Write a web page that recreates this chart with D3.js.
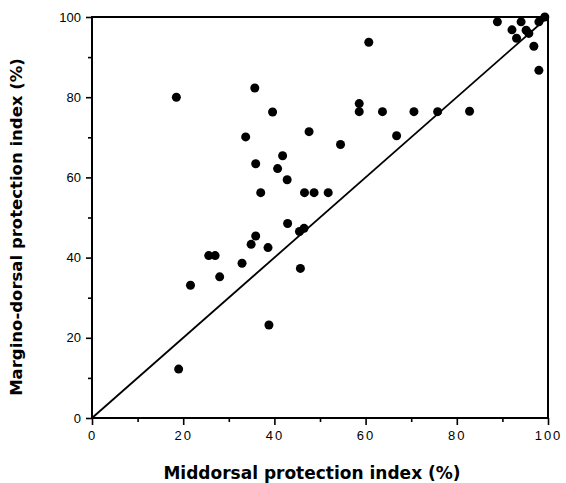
<!DOCTYPE html>
<html>
<head>
<meta charset="utf-8">
<script src="https://cdn.jsdelivr.net/npm/d3@7"></script>
<style>
  body { margin: 0; background: #fff; }
  svg { display: block; }
  .tick text { font-family: "Liberation Sans", Arial, sans-serif; font-size: 13px; fill: #000; }
  .title { font-family: "DejaVu Sans", sans-serif; font-weight: bold; fill: #000; }
</style>
</head>
<body>
<div id="chart"></div>
<script>
// Middorsal (x) vs margino-dorsal (y) protection index, %
const middorsal = [18.5, 19, 21.6, 25.6, 27, 28, 32.9, 33.7, 34.9, 35.7, 35.9, 35.9, 37, 38.6, 38.8, 39.6,
    40.7, 41.8, 42.8, 42.9, 45.5, 45.7, 46.5, 46.6, 47.6, 48.7, 51.8, 54.5, 58.6, 58.6, 60.7, 63.7,
    66.8, 70.6, 75.8, 82.8, 88.9, 92.1, 93.1, 94.1, 95.2, 95.8, 96.9, 98, 98, 99.3];
const marginoDorsal = [80, 12.2, 33.1, 40.5, 40.5, 35.2, 38.6, 70.1, 43.3, 82.3, 63.4, 45.4, 56.2, 42.5, 23.2, 76.3,
    62.2, 65.4, 59.4, 48.5, 46.5, 37.3, 47.3, 56.2, 71.4, 56.2, 56.2, 68.2, 78.4, 76.4, 93.7, 76.4,
    70.4, 76.4, 76.4, 76.5, 98.8, 96.8, 94.7, 98.8, 96.7, 95.9, 92.7, 86.7, 98.8, 100];
const majorTicks = [0, 20, 40, 60, 80, 100];
const minorTicks = [10, 30, 50, 70, 90];
const identityLine = [0, 100];

const width = 566, height = 483;
const margin = {left: 92, right: 18, top: 17, bottom: 65};

const svg = d3.select("#chart").append("svg")
    .attr("width", width)
    .attr("height", height);

const x = d3.scaleLinear().domain([0, 100]).range([margin.left, width - margin.right]);
const y = d3.scaleLinear().domain([0, 100]).range([height - margin.bottom, margin.top]);

// 坐标轴 - 主刻度
const xAxis = svg.append("g")
    .attr("transform", `translate(0,${y(0)})`)
    .call(d3.axisBottom(x).tickValues(majorTicks).tickSize(7).tickPadding(6).tickFormat(d3.format("d")));
xAxis.selectAll("text").style("letter-spacing", "2px");

const yAxis = svg.append("g")
    .attr("transform", `translate(${x(0)},0)`)
    .call(d3.axisLeft(y).tickValues(majorTicks).tickSize(6).tickPadding(5).tickFormat(d3.format("d")));

// 次刻度
svg.append("g")
    .attr("transform", `translate(0,${y(0)})`)
    .call(d3.axisBottom(x).tickValues(minorTicks).tickSize(4).tickFormat(""));
svg.append("g")
    .attr("transform", `translate(${x(0)},0)`)
    .call(d3.axisLeft(y).tickValues(minorTicks).tickSize(4).tickFormat(""));

svg.selectAll(".domain").remove();
svg.selectAll(".tick line").attr("stroke", "#000").attr("stroke-width", 1.6);

// 边框
svg.append("rect")
    .attr("x", x(0))
    .attr("y", y(100))
    .attr("width", x(100) - x(0))
    .attr("height", y(0) - y(100))
    .attr("fill", "none")
    .attr("stroke", "#000")
    .attr("stroke-width", 2);

// y = x 参考线
svg.append("line")
    .attr("x1", x(identityLine[0]))
    .attr("y1", y(identityLine[0]))
    .attr("x2", x(identityLine[1]))
    .attr("y2", y(identityLine[1]))
    .attr("stroke", "#000")
    .attr("stroke-width", 1.8);

// 数据点
svg.append("g")
    .selectAll("circle")
    .data(middorsal.map((d, i) => ({x: d, y: marginoDorsal[i]})))
    .join("circle")
    .attr("cx", d => x(d.x))
    .attr("cy", d => y(d.y))
    .attr("r", 4.5)
    .attr("fill", "#000");

// 轴标题
svg.append("text")
    .attr("class", "title")
    .attr("x", 312)
    .attr("y", 479)
    .attr("text-anchor", "middle")
    .style("font-size", "17px")
    .text("Middorsal protection index (%)");

svg.append("text")
    .attr("class", "title")
    .attr("transform", `translate(22,227) rotate(-90)`)
    .attr("text-anchor", "middle")
    .style("font-size", "16.5px")
    .text("Margino-dorsal protection index (%)");
</script>
</body>
</html>
